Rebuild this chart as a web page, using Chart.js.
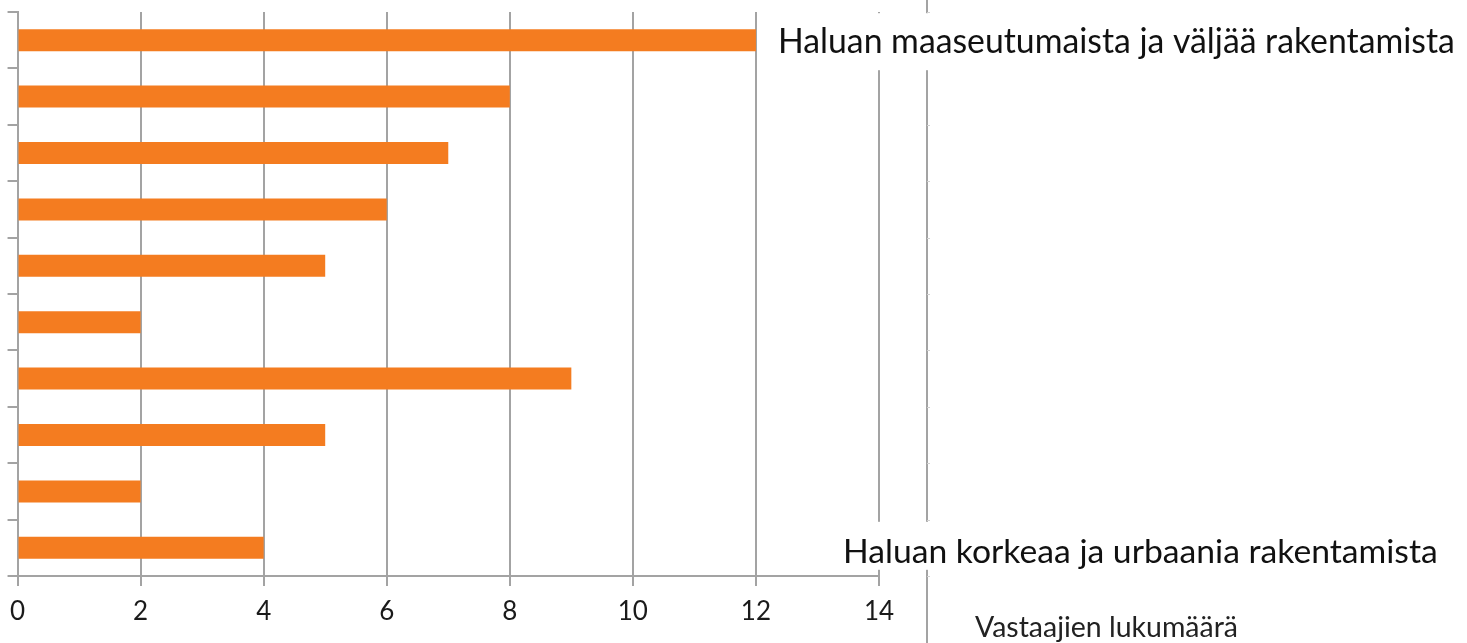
<!DOCTYPE html>
<html>
<head>
<meta charset="utf-8">
<script src="https://cdn.jsdelivr.net/npm/chart.js@4.4.1/dist/chart.umd.min.js"></script>
<style>
  body { margin: 0; background: #fff; }
  #wrap { width: 1467px; height: 643px; position: relative; }
</style>
</head>
<body>
<div id="wrap"><canvas id="chart"></canvas></div>
<script>
// Data (top bar first)
const categories = ['1', '2', '3', '4', '5', '6', '7', '8', '9', '10'];
const counts = [12, 8, 7, 6, 5, 2, 9, 5, 2, 4];
const xTicks = [0, 2, 4, 6, 8, 10, 12, 14];
const topLabel = 'Haluan maaseutumaista ja väljää rakentamista';
const bottomLabel = 'Haluan korkeaa ja urbaania rakentamista';
const axisTitle = 'Vastaajien lukumäärä';

const gridColor = '#a3a3a3';

// Fit a text into a target width by scaling the font size
function fitFont(ctx, text, family, width) {
    ctx.font = '100px ' + family;
    const w = ctx.measureText(text).width;
    return 100 * width / w;
}

// Extra drawing: second vertical line, end labels and axis title
const extras = {
    id: 'extras',
    afterDraw(chart) {
        const ctx = chart.ctx;
        const area = chart.chartArea;
        const y = chart.scales.y;
        ctx.save();

        // right-hand vertical line with tiny ticks
        const lx = area.right + 48;
        ctx.strokeStyle = gridColor;
        ctx.lineWidth = 2;
        ctx.beginPath();
        ctx.moveTo(lx, 0);
        ctx.lineTo(lx, chart.height);
        ctx.stroke();
        ctx.lineWidth = 1;
        ctx.strokeStyle = '#d0d0d0';
        const step = (area.bottom - area.top) / categories.length;
        for (let i = 0; i <= categories.length; i++) {
            const ty = Math.round(area.top + i * step) + 0.5;
            ctx.beginPath();
            ctx.moveTo(lx, ty);
            ctx.lineTo(lx + 3, ty);
            ctx.stroke();
        }

        // top label next to first bar
        const topY = y.getPixelForValue(0);
        ctx.fillStyle = '#fff';
        ctx.fillRect(768, topY - 27, chart.width - 768, 57);
        let size = fitFont(ctx, topLabel, 'Lato, sans-serif', 677);
        ctx.font = size + 'px Lato, sans-serif';
        ctx.fillStyle = '#111';
        ctx.textAlign = 'left';
        ctx.textBaseline = 'middle';
        ctx.fillText(topLabel, 778, topY + 2);

        // bottom label
        const botY = y.getPixelForValue(categories.length - 1);
        ctx.fillStyle = '#fff';
        ctx.fillRect(835, botY - 26, chart.width - 835, 48);
        size = fitFont(ctx, bottomLabel, 'Lato, sans-serif', 595);
        ctx.font = size + 'px Lato, sans-serif';
        ctx.fillStyle = '#111';
        ctx.fillText(bottomLabel, 843, botY + 4);

        // axis title
        size = fitFont(ctx, axisTitle, 'Lato, sans-serif', 263);
        ctx.font = size + 'px Lato, sans-serif';
        ctx.fillStyle = '#222';
        ctx.fillText(axisTitle, 975, 628);

        ctx.restore();
    }
};

new Chart(document.getElementById('chart'), {
    type: 'bar',
    data: {
        labels: categories,
        datasets: [{
            data: counts,
            backgroundColor: '#f47c20',
            barPercentage: 0.39,
            categoryPercentage: 1
        }]
    },
    options: {
        indexAxis: 'y',
        responsive: true,
        maintainAspectRatio: false,
        animation: false,
        layout: { padding: { top: 12, right: 588, left: 0, bottom: 0 } },
        plugins: {
            legend: { display: false },
            tooltip: { enabled: false }
        },
        scales: {
            x: {
                min: 0,
                max: 14,
                afterBuildTicks: (scale) => { scale.ticks = xTicks.map(v => ({ value: v })); },
                afterFit: (scale) => { scale.height = 67; },
                grid: { color: gridColor, lineWidth: 2, tickLength: 10 },
                border: { color: gridColor, width: 2 },
                ticks: {
                    color: '#1a1a1a',
                    padding: 10,
                    font: { family: "'Lato', sans-serif", size: 26 }
                }
            },
            y: {
                afterFit: (scale) => { scale.width = 16; },
                grid: { drawOnChartArea: false, offset: true, color: gridColor, lineWidth: 2, tickLength: 10 },
                border: { color: gridColor, width: 2 },
                ticks: { display: false }
            }
        }
    },
    plugins: [extras]
});
</script>
</body>
</html>
